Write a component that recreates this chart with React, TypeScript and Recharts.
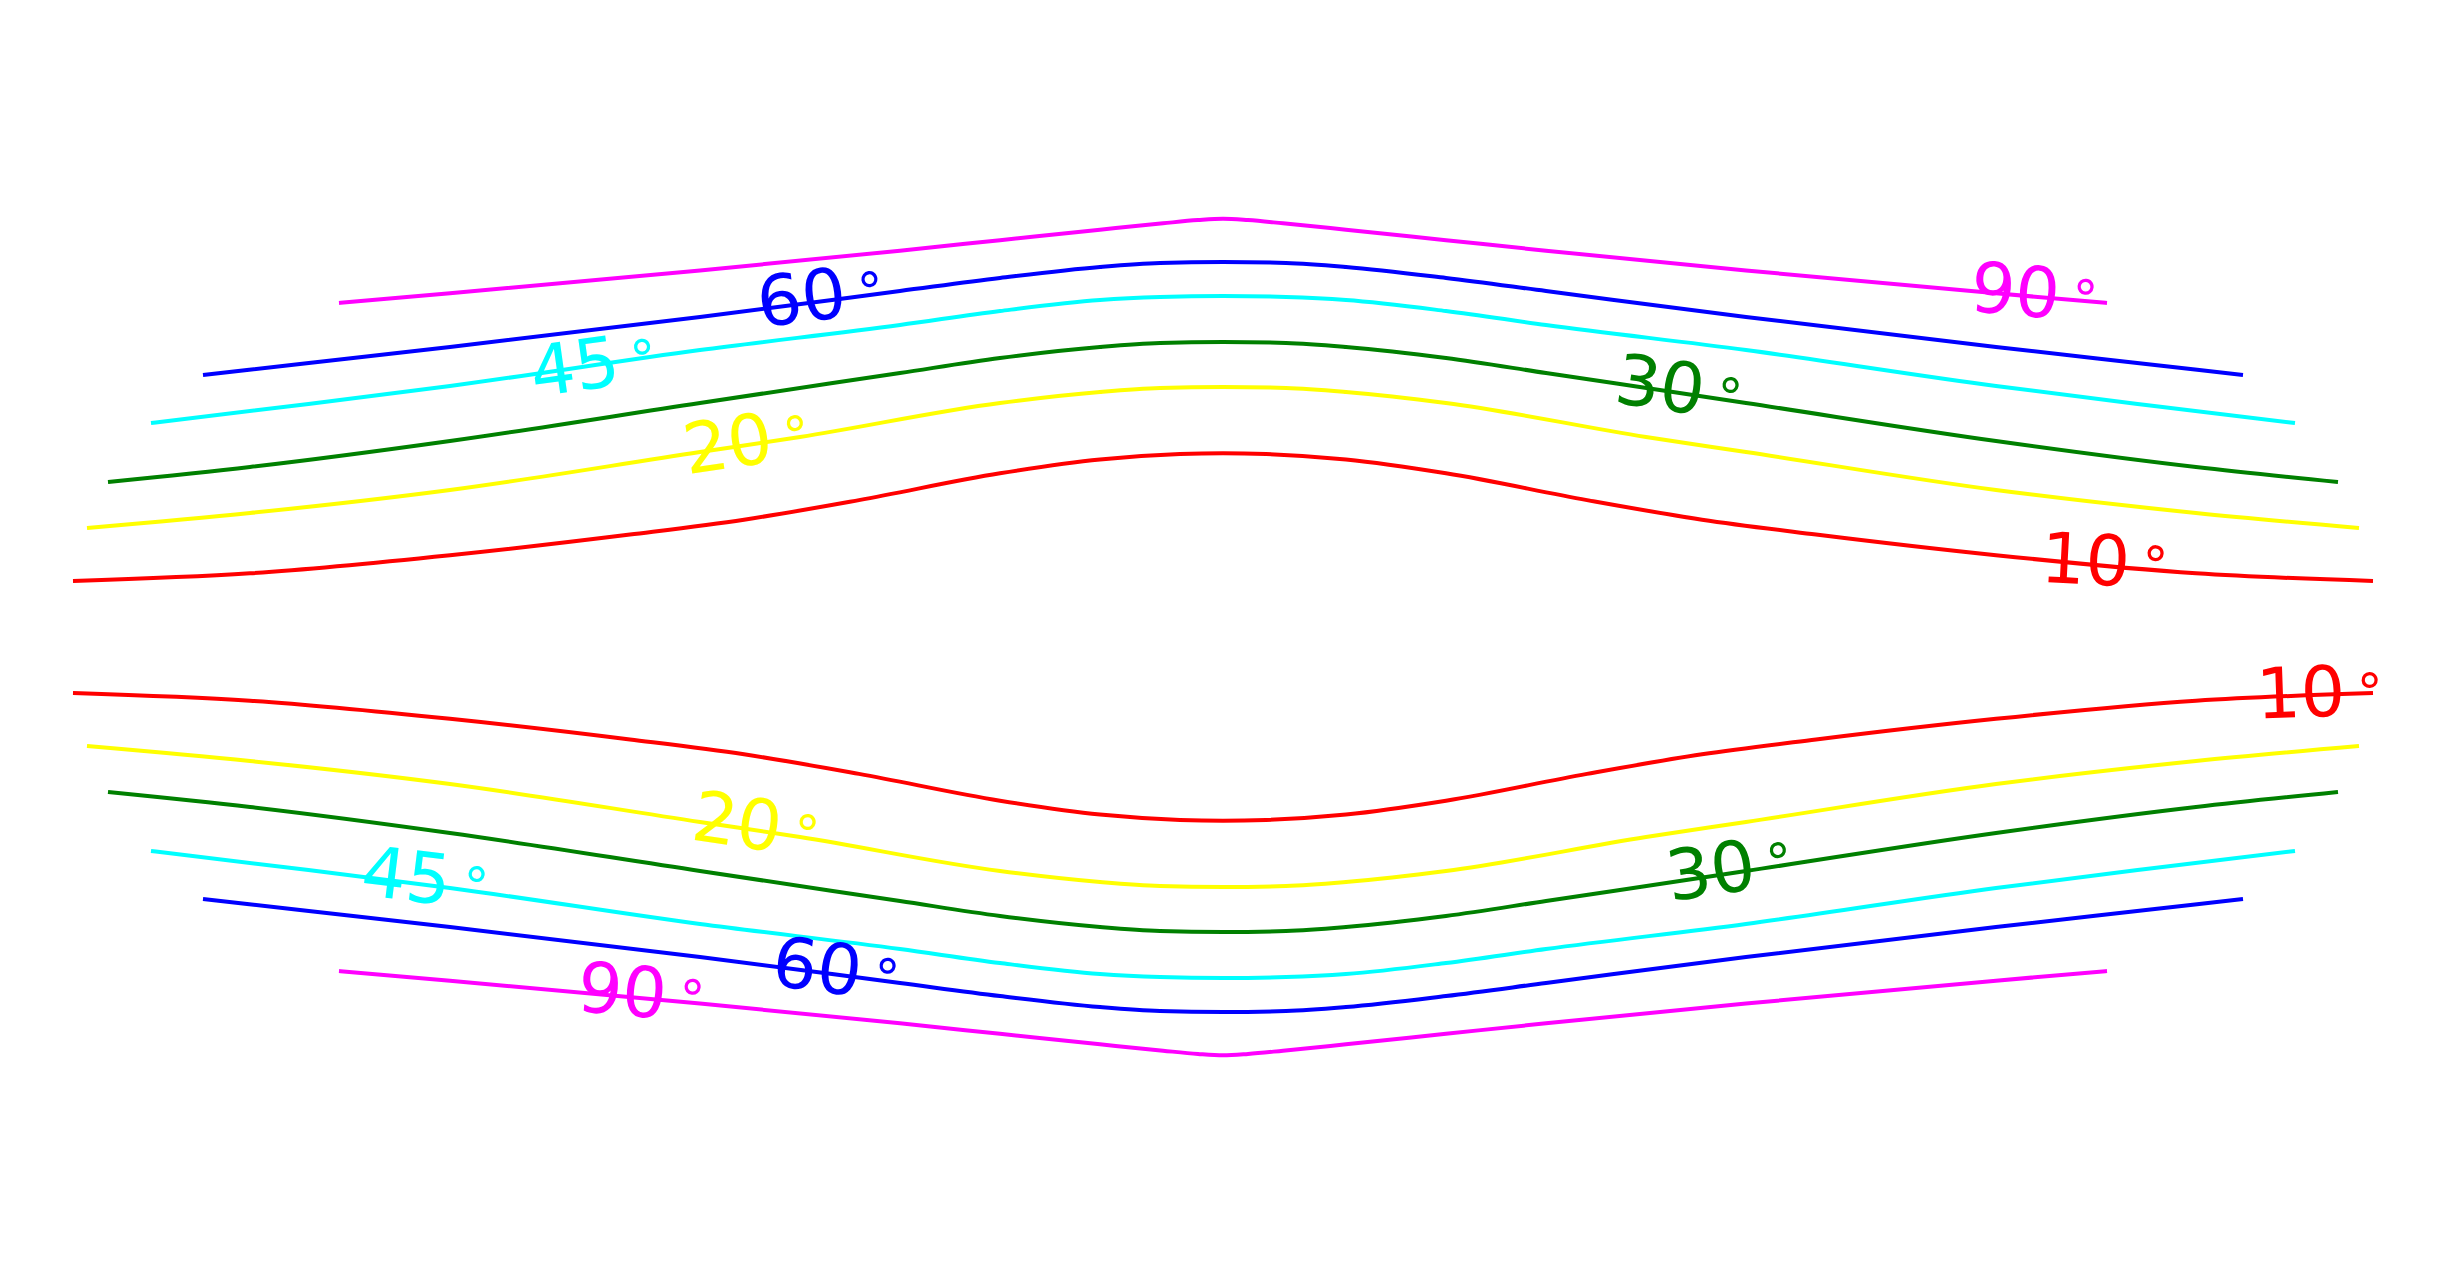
import React from 'react';
import { ComposedChart, Line, Scatter, XAxis, YAxis } from 'recharts';

// The figure is symmetric left/right and top/bottom, so each contour is read
// off the picture as a half curve: from its left end to the centre line.
// Units: x to the right, y upwards, origin at the centre of the figure.
const magentaX = [-8.84, -7.73, -5.23, -3.23, -2.23, -1.23, -0.6, -0.25, 0];
const magentaY = [3.34, 3.437, 3.665, 3.863, 3.968, 4.073, 4.137, 4.169, 4.182];

const blueX = [-10.2, -9.23, -7.73, -5.23, -3.23, -2.23, -1.23, -0.63, 0];
const blueY = [2.62, 2.73, 2.9, 3.2, 3.46, 3.59, 3.7, 3.74, 3.75];

const cyanX = [-10.72, -9.23, -7.73, -5.23, -3.23, -2.23, -1.23, -0.63, 0];
const cyanY = [2.14, 2.32, 2.51, 2.87, 3.12, 3.26, 3.37, 3.4, 3.41];

const greenX = [-11.15, -9.73, -7.73, -5.23, -3.23, -2.23, -1.23, -0.63, 0];
const greenY = [1.55, 1.7, 1.96, 2.34, 2.64, 2.79, 2.9, 2.94, 2.95];

const yellowX = [-11.36, -9.73, -7.73, -5.23, -4.23, -2.23, -1.23, -0.63, 0];
const yellowY = [1.09, 1.24, 1.47, 1.85, 2.0, 2.34, 2.45, 2.49, 2.5];

const redX = [-11.5, -9.73, -7.73, -5.93, -4.79, -3.64, -2.23, -1.23, -0.43, 0];
const redY = [0.56, 0.637, 0.818, 1.025, 1.173, 1.369, 1.637, 1.775, 1.829, 1.837];

// contour labels
const labelText = ['60', '45', '20', '90', '30', '10', '10', '20', '30', '45', '60', '90'];
const labelX = [-4.22, -6.49, -4.96, 7.92, 4.37, 8.62, 10.77, -4.86, 4.87, -8.17, -4.06, -6.01];
const labelY = [3.4, 2.71, 1.94, 3.47, 2.53, 0.78, -0.55, -1.84, -2.33, -2.38, -3.29, -3.53];

// styling
const labelTilt = [-7, -8, -8.5, 5, 8.5, 3, -2, 8.5, -8.5, 7, 7.5, 5];
const colors: Record<string, string> = {
  '10': '#ff0000',
  '20': '#ffff00',
  '30': '#008000',
  '45': '#00ffff',
  '60': '#0000ff',
  '90': '#ff00ff',
};

const W = 2444;
const H = 1275;

// mirror a half curve across the centre line (flip = -1 for the lower half)
function fullCurve(xs: number[], ys: number[], flip: number) {
  const left = xs.map((x, i) => ({ x, y: ys[i] * flip }));
  const right = xs
    .slice(0, -1)
    .map((x, i) => ({ x: -x, y: ys[i] * flip }))
    .reverse();
  return [...left, ...right];
}

const curves = [
  { key: '10', xs: redX, ys: redY },
  { key: '20', xs: yellowX, ys: yellowY },
  { key: '30', xs: greenX, ys: greenY },
  { key: '45', xs: cyanX, ys: cyanY },
  { key: '60', xs: blueX, ys: blueY },
  { key: '90', xs: magentaX, ys: magentaY },
];

const labels = labelText.map((text, i) => ({
  x: labelX[i],
  y: labelY[i],
  text,
  tilt: labelTilt[i],
}));

const LabelShape = (props: any) => {
  const { cx, cy, payload } = props;
  if (cx == null || cy == null) return null;
  return (
    <g transform={`translate(${cx},${cy}) rotate(${payload.tilt})`}>
      <text x={-44} y={25} fill={colors[payload.text]} fontSize={70} fontFamily="DejaVu Sans">
        {payload.text}
        <tspan dx={12} dy={-4} fontSize={52}>
          °
        </tspan>
      </text>
    </g>
  );
};

export default function App() {
  return (
    <div style={{ width: W, height: H, background: '#fff' }}>
      <style>{`body{margin:0;overflow:hidden;}`}</style>
      <ComposedChart width={W} height={H} margin={{ top: 0, right: 0, bottom: 0, left: 0 }}>
        <XAxis type="number" dataKey="x" domain={[-12.23, 12.21]} allowDataOverflow hide />
        <YAxis type="number" dataKey="y" domain={[-6.38, 6.37]} allowDataOverflow hide />
        {curves.map((c) => (
          <Line
            key={'top' + c.key}
            data={fullCurve(c.xs, c.ys, 1)}
            dataKey="y"
            type="monotone"
            stroke={colors[c.key]}
            strokeWidth={4}
            dot={false}
            activeDot={false}
            isAnimationActive={false}
          />
        ))}
        {curves.map((c) => (
          <Line
            key={'bot' + c.key}
            data={fullCurve(c.xs, c.ys, -1)}
            dataKey="y"
            type="monotone"
            stroke={colors[c.key]}
            strokeWidth={4}
            dot={false}
            activeDot={false}
            isAnimationActive={false}
          />
        ))}
        <Scatter data={labels} dataKey="y" shape={LabelShape} isAnimationActive={false} />
      </ComposedChart>
    </div>
  );
}
